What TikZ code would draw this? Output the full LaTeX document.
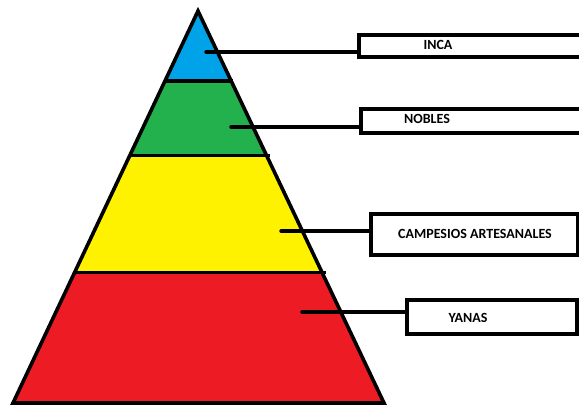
\documentclass[tikz,border=0pt]{standalone}
\usepackage{fontspec}
\setmainfont{Carlito}
\usetikzlibrary{calc}
\definecolor{incablue}{RGB}{0,162,232}
\definecolor{noblegreen}{RGB}{34,177,76}
\definecolor{campyellow}{RGB}{255,242,0}
\definecolor{yanared}{RGB}{237,28,36}
\begin{document}
\begin{tikzpicture}[x=1pt,y=-1pt,
  outline/.style={line width=3.6pt,line join=miter},
  sep/.style={line width=3.6pt},
  lead/.style={line width=3.4pt,line cap=round},
  labelbox/.style={draw,line width=3.6pt,fill=white,inner sep=0pt,anchor=north west},
  tag/.style={font=\bfseries\fontsize{14}{15}\selectfont,inner sep=0pt}]
\useasboundingbox (0,0) rectangle (579,405);

% corners of the pyramid
\coordinate (apex) at (198,11);
\coordinate (bl) at (13,403);
\coordinate (br) at (384,403);

% level boundaries along both sides
\coordinate (l1) at ($(apex)!0.1781!(bl)$);
\coordinate (r1) at ($(apex)!0.1781!(br)$);
\coordinate (l2) at ($(apex)!0.3690!(bl)$);
\coordinate (r2) at ($(apex)!0.3690!(br)$);
\coordinate (l3) at ($(apex)!0.6667!(bl)$);
\coordinate (r3) at ($(apex)!0.6667!(br)$);

% coloured layers
\fill[incablue] (apex) -- (r1) -- (l1) -- cycle;
\fill[noblegreen] (l1) -- (r1) -- (r2) -- (l2) -- cycle;
\fill[campyellow] (l2) -- (r2) -- (r3) -- (l3) -- cycle;
\fill[yanared] (l3) -- (r3) -- (br) -- (bl) -- cycle;

% separating lines
\draw[sep] (l1) -- ($(r1)+(2,0)$);
\draw[sep] (l2) -- ($(r2)+(3,0)$);
\draw[sep] (l3) -- ($(r3)+(4,0)$);

% outline
\draw[outline] (apex) -- (br) -- (bl) -- cycle;

% label boxes
\node[labelbox,minimum width=226pt,minimum height=22pt] (binca) at (357,33) {};
\node[labelbox,minimum width=224pt,minimum height=24pt] (bnobles) at (359,107) {};
\node[labelbox,minimum width=207pt,minimum height=41pt] (bcamp) at (369,212) {};
\node[labelbox,minimum width=170pt,minimum height=34pt] (byanas) at (405,298) {};

\node[tag] (tinca) at (438,45) {INCA};
\node[tag] (tnobles) at (427,119) {NOBLES};
\node[tag] (tcamp) at (475,234) {CAMPESIOS ARTESANALES};
\node[tag] (tyanas) at (468,318) {YANAS};

% leader lines
\coordinate (pinca) at (206,52);
\coordinate (pnobles) at (231,127);
\coordinate (pcamp) at (281,231);
\coordinate (pyanas) at (302,312);
\draw[lead] (pinca) -- (pinca -| binca.west);
\draw[lead] (pnobles) -- (pnobles -| bnobles.west);
\draw[lead] (pcamp) -- (pcamp -| bcamp.west);
\draw[lead] (pyanas) -- (pyanas -| byanas.west);
\end{tikzpicture}
\end{document}
